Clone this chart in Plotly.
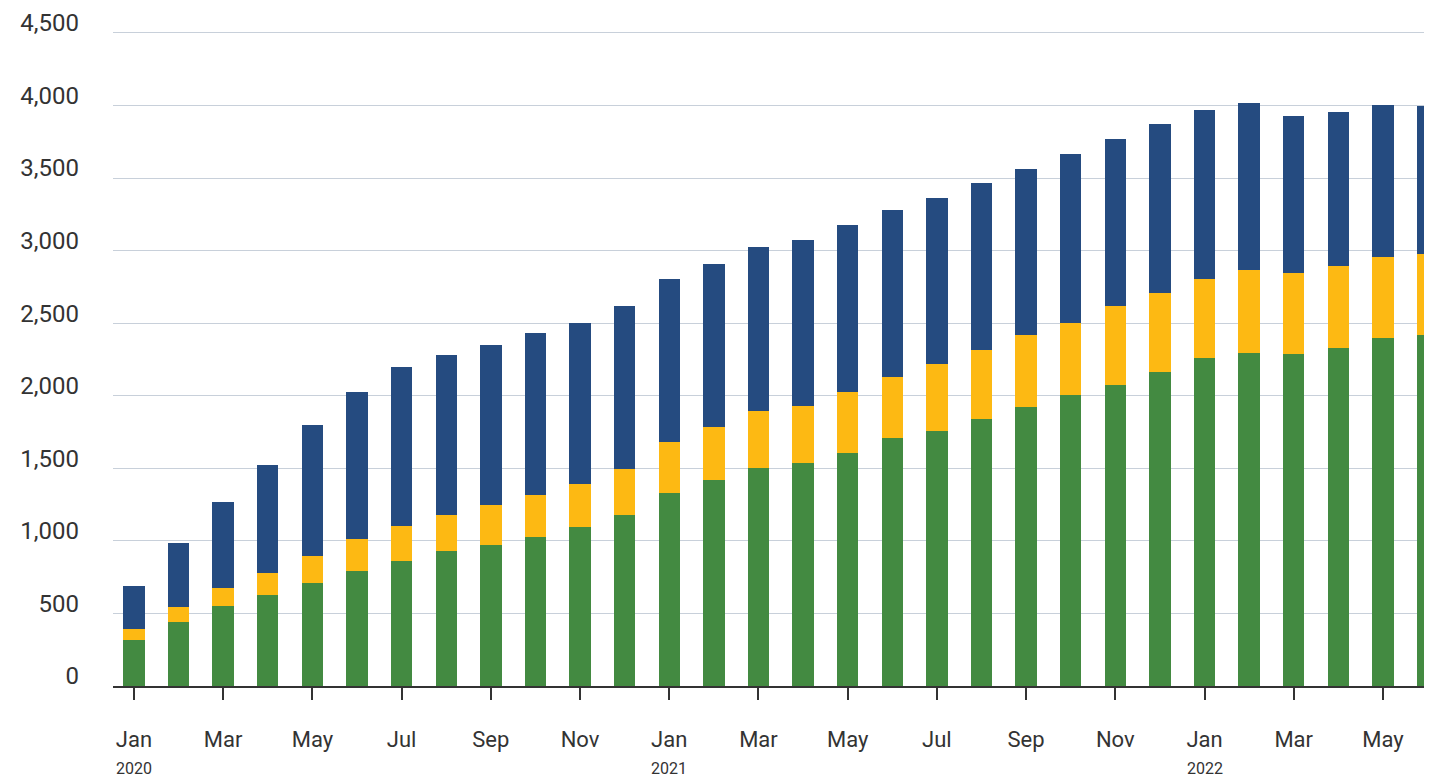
import plotly.graph_objects as go

months = ["2020-01","2020-02","2020-03","2020-04","2020-05","2020-06","2020-07","2020-08","2020-09","2020-10","2020-11","2020-12",
          "2021-01","2021-02","2021-03","2021-04","2021-05","2021-06","2021-07","2021-08","2021-09","2021-10","2021-11","2021-12",
          "2022-01","2022-02","2022-03","2022-04","2022-05","2022-06"]

green = [316, 439, 553, 625, 707, 793, 858, 927, 975, 1026, 1095, 1177,
         1329, 1421, 1504, 1538, 1607, 1706, 1754, 1840, 1922, 2008, 2077, 2163,
         2262, 2297, 2290, 2331, 2396, 2417]
yellow = [75, 103, 120, 151, 189, 223, 244, 254, 275, 289, 299, 316,
          350, 361, 391, 391, 422, 426, 464, 474, 495, 495, 542, 542,
          543, 566, 559, 566, 563, 563]
navy = [299, 440, 594, 745, 899, 1013, 1095, 1102, 1098, 1119, 1105, 1126,
        1126, 1126, 1129, 1147, 1146, 1146, 1146, 1150, 1146, 1163, 1147, 1164,
        1163, 1157, 1078, 1061, 1044, 1016]

tick_vals = months[0::2]
tick_text = ["Jan","Mar","May","Jul","Sep","Nov"] * 2 + ["Jan","Mar","May"]
year_labels = {"2020-01": "2020", "2021-01": "2021", "2022-01": "2022"}

y_ticks = [0, 500, 1000, 1500, 2000, 2500, 3000, 3500, 4000, 4500]

fig = go.Figure()
fig.add_trace(go.Bar(x=months, y=green, marker_color="#438a41", marker_line_width=0, name="Green"))
fig.add_trace(go.Bar(x=months, y=yellow, marker_color="#fdb913", marker_line_width=0, name="Yellow"))
fig.add_trace(go.Bar(x=months, y=navy, marker_color="#254b80", marker_line_width=0, name="Navy"))

for m, yr in year_labels.items():
    fig.add_annotation(x=m, y=0, xref="x", yref="paper", yshift=-82, text=yr,
                       showarrow=False, font=dict(family="Roboto", size=16, color="#333"),
                       yanchor="middle")

fig.update_layout(
    barmode="stack",
    bargap=0.52,
    width=1424, height=774,
    margin=dict(l=105, r=0, t=22, b=96),
    paper_bgcolor="white", plot_bgcolor="white",
    showlegend=False,
    font=dict(family="Roboto", color="#333"),
    xaxis=dict(type="category", range=[-0.47, 29.1], tickmode="array",
               tickvals=tick_vals, ticktext=tick_text, ticks="outside",
               ticklen=12, tickwidth=2, tickcolor="#333", showline=True,
               linecolor="#333", linewidth=2, showgrid=False,
               tickfont=dict(family="Roboto", size=22, color="#333"),
               ticklabelstandoff=21),
    yaxis=dict(range=[0, 4520], tickmode="array", tickvals=y_ticks,
               tickformat=",", showgrid=True, gridcolor="#c8d0da", gridwidth=1.3,
               zeroline=False, showline=False,
               tickfont=dict(family="Roboto", size=24, color="#333"),
               ticklabelstandoff=33, ticklabelshift=-10),
)

fig.write_html("out.html")
